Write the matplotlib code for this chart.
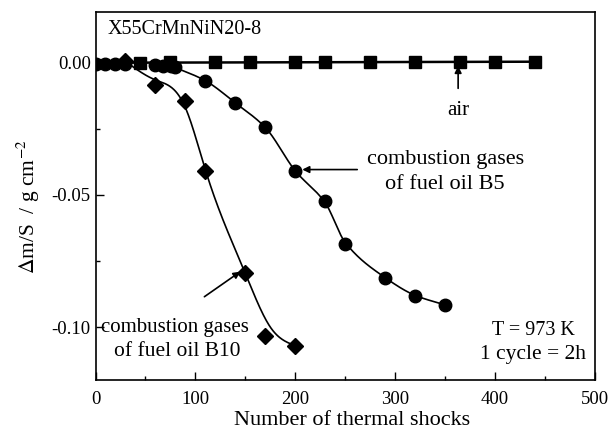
import numpy as np
import matplotlib
matplotlib.use("Agg")
import matplotlib.pyplot as plt
from matplotlib.ticker import MultipleLocator

plt.rcParams['font.family'] = ['Liberation Serif', 'DejaVu Serif']
plt.rcParams['mathtext.fontset'] = 'stix'

# data
air_x = [45, 75, 120, 155, 200, 230, 275, 320, 365, 400, 440]
air_y = [0.0, 0.0001, 0.0001, 0.0002, 0.0002, 0.0002, 0.0003, 0.0003, 0.0004, 0.0004, 0.0004]

b5_x = [0, 10, 20, 30, 60, 68, 76, 80, 110, 140, 170, 200, 230, 250, 290, 320, 350]
b5_y = [-0.0005, -0.0005, -0.0005, -0.0005, -0.0010, -0.0012, -0.0012, -0.0015,
        -0.0068, -0.0152, -0.0243, -0.0409, -0.0524, -0.0685, -0.0813, -0.0883, -0.0916]

b10_x = [30, 60, 90, 110, 150, 170, 200]
b10_y = [0.0005, -0.0084, -0.0143, -0.0410, -0.0797, -0.1035, -0.1070]

# smoothed fit-curve nodes
fit5_x = [76, 110, 140, 170, 200, 230, 250, 290, 320, 350]
fit5_y = [-0.0012, -0.0068, -0.0152, -0.0245, -0.0409, -0.0530, -0.0680, -0.0813, -0.0880, -0.0916]
fit10_x = [30, 60, 90, 110, 150, 175, 200]
fit10_y = [0.0005, -0.0065, -0.0170, -0.0405, -0.0797, -0.1000, -0.1070]


def pchip(x, y, xs):
    x = np.asarray(x, float); y = np.asarray(y, float)
    h = np.diff(x); d = np.diff(y) / h
    n = len(x); m = np.zeros(n)
    for k in range(1, n - 1):
        if d[k - 1] * d[k] > 0:
            w1 = 2 * h[k] + h[k - 1]; w2 = h[k] + 2 * h[k - 1]
            m[k] = (w1 + w2) / (w1 / d[k - 1] + w2 / d[k])
    m[0] = d[0]; m[-1] = d[-1]
    idx = np.clip(np.searchsorted(x, xs) - 1, 0, n - 2)
    t = (xs - x[idx]) / h[idx]
    h00 = 2 * t**3 - 3 * t**2 + 1; h10 = t**3 - 2 * t**2 + t
    h01 = -2 * t**3 + 3 * t**2; h11 = t**3 - t**2
    return h00 * y[idx] + h10 * h[idx] * m[idx] + h01 * y[idx + 1] + h11 * h[idx] * m[idx + 1]


def natural_spline(x, y, xs):
    x = np.asarray(x, float); y = np.asarray(y, float)
    n = len(x); h = np.diff(x)
    A = np.zeros((n, n)); b = np.zeros(n)
    A[0, 0] = 1; A[-1, -1] = 1
    for i in range(1, n - 1):
        A[i, i - 1] = h[i - 1]; A[i, i] = 2 * (h[i - 1] + h[i]); A[i, i + 1] = h[i]
        b[i] = 6 * ((y[i + 1] - y[i]) / h[i] - (y[i] - y[i - 1]) / h[i - 1])
    M = np.linalg.solve(A, b)
    idx = np.clip(np.searchsorted(x, xs) - 1, 0, n - 2)
    xi = x[idx]; xi1 = x[idx + 1]; hi = h[idx]
    return (M[idx] * (xi1 - xs)**3 / (6 * hi) + M[idx + 1] * (xs - xi)**3 / (6 * hi)
            + (y[idx] / hi - M[idx] * hi / 6) * (xi1 - xs)
            + (y[idx + 1] / hi - M[idx + 1] * hi / 6) * (xs - xi))


fig = plt.figure(figsize=(6.08, 4.36), dpi=100)
ax = fig.add_axes([95.5 / 608, 1 - 380 / 436, (595 - 95.5) / 608, (380 - 12) / 436])

ax.plot([0, 440], [0.0, 0.0004], color='black', lw=1.8, zorder=2)
xs = np.linspace(fit5_x[0], fit5_x[-1], 400)
ax.plot(xs, pchip(fit5_x, fit5_y, xs), color='black', lw=1.2, zorder=2)
xs = np.linspace(fit10_x[0], fit10_x[-1], 400)
ax.plot(xs, natural_spline(fit10_x, fit10_y, xs), color='black', lw=1.2, zorder=2)

ax.plot(air_x, air_y, 's', color='black', ms=8, zorder=3)
ax.plot(b5_x, b5_y, 'o', color='black', ms=9, zorder=3)
ax.plot(b10_x, b10_y, 'D', color='black', ms=8, zorder=3)

ax.set_xlim(0, 500)
ax.set_ylim(-0.12, 0.0192)
ax.set_xticks([0, 100, 200, 300, 400, 500])
ax.set_yticks([-0.10, -0.05, 0.00])
ax.set_yticklabels(['-0.10', '-0.05', '0.00'])
ax.xaxis.set_minor_locator(MultipleLocator(50))
ax.yaxis.set_minor_locator(MultipleLocator(0.025))
ax.tick_params(which='both', direction='in', top=False, right=False, labelsize=13.5)
ax.tick_params(which='major', length=6, width=1)
ax.tick_params(which='minor', length=3, width=1)
ax.tick_params(axis='x', pad=8)
for s in ax.spines.values():
    s.set_linewidth(1.2)

ax.set_xlabel('Number of thermal shocks', fontsize=16, labelpad=3)
ax.xaxis.set_label_coords(0.513, -0.085)
ax.set_ylabel(r'$\Delta$m/S  / g cm$^{-2}$', fontsize=15.5)
ax.yaxis.set_label_coords(-0.108, 0.47)

ax.text(12, 0.0125, 'X55CrMnNiN20-8', fontsize=14.5, va='center', ha='left')
ax.annotate('air', xy=(363, -0.0012), xytext=(363, -0.0180), fontsize=15,
            ha='center', va='center',
            arrowprops=dict(arrowstyle='-|>', color='black', lw=1.2, mutation_scale=10,
                            shrinkA=7, shrinkB=0))
ax.annotate('', xy=(207, -0.0404), xytext=(262, -0.0404),
            arrowprops=dict(arrowstyle='-|>', color='black', lw=1.2, mutation_scale=10,
                            shrinkA=0, shrinkB=0))
ax.text(350, -0.0365, 'combustion gases', fontsize=16, ha='center', va='center')
ax.text(350, -0.0462, 'of fuel oil B5', fontsize=16, ha='center', va='center')
ax.annotate('', xy=(145, -0.0790), xytext=(109, -0.0885),
            arrowprops=dict(arrowstyle='-|>', color='black', lw=1.2, mutation_scale=10,
                            shrinkA=0, shrinkB=0))
ax.text(80, -0.1000, 'combustion gases', fontsize=15, ha='center', va='center')
ax.text(82, -0.1092, 'of fuel oil B10', fontsize=15.5, ha='center', va='center')
ax.text(438, -0.1012, 'T = 973 K', fontsize=14.5, ha='center', va='center')
ax.text(438, -0.1105, '1 cycle = 2h', fontsize=15.5, ha='center', va='center')

fig.savefig('out.png', dpi=100)
